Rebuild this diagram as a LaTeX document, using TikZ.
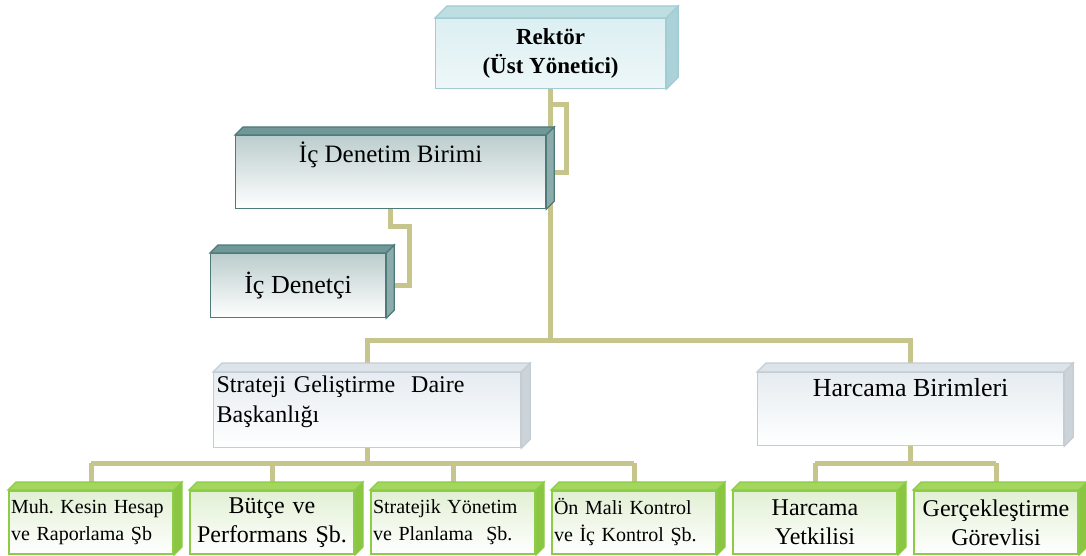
\documentclass[tikz,border=0pt]{standalone}
\usepackage{fontspec}
\setmainfont{Liberation Serif}
\usetikzlibrary{backgrounds}

\definecolor{linkolive}{RGB}{198,198,140}
\definecolor{rekfront}{RGB}{220,239,242}
\definecolor{rekedge}{RGB}{160,204,210}
\definecolor{rektop}{RGB}{190,222,226}
\definecolor{rekside}{RGB}{170,210,216}
\definecolor{audfront}{RGB}{188,205,205}
\definecolor{audedge}{RGB}{78,122,122}
\definecolor{audtop}{RGB}{112,152,152}
\definecolor{audside}{RGB}{140,172,172}
\definecolor{deptfront}{RGB}{230,236,241}
\definecolor{deptedge}{RGB}{196,205,212}
\definecolor{depttop}{RGB}{220,227,233}
\definecolor{deptside}{RGB}{204,212,218}
\definecolor{unitfront}{RGB}{226,240,212}
\definecolor{unitedge}{RGB}{140,204,70}
\definecolor{unittop}{RGB}{162,214,92}
\definecolor{unitside}{RGB}{138,198,66}

% top and right faces of a box node: node, depth, top, side, edge
\newcommand{\boxfaces}[5]{%
  \filldraw[draw=#5,fill=#3,line width=0.6pt] (#1.north west) -- ++(#2,#2) -- ([shift={(#2,#2)}]#1.north east) -- (#1.north east) -- cycle;
  \filldraw[draw=#5,fill=#4,line width=0.6pt] (#1.north east) -- ([shift={(#2,#2)}]#1.north east) -- ([shift={(#2,#2)}]#1.south east) -- (#1.south east) -- cycle;}

\begin{document}
\begin{tikzpicture}[x=0.5pt,y=-0.5pt,
  conn/.style={draw=linkolive,line width=2.5pt},
  rekbox/.style={anchor=north west,draw=rekedge,line width=0.6pt,top color=rekfront,bottom color=rekfront!50!white,
    minimum width=115pt,minimum height=35pt,align=center,font=\bfseries\fontsize{11.5}{14.5}\selectfont},
  audbox/.style={anchor=north west,draw=audedge,line width=0.6pt,top color=audfront,bottom color=white,inner sep=2pt},
  deptbox/.style={anchor=north west,draw=deptedge,line width=0.6pt,top color=deptfront,bottom color=white,inner sep=1.5pt},
  unitbox/.style={anchor=north west,draw=unitedge,line width=1pt,top color=unitfront,bottom color=white,
    inner sep=1pt,text width=80pt,minimum height=31.5pt},
  small/.style={align=left,font=\fontsize{10}{13.5}\selectfont},
  large/.style={align=center,font=\fontsize{12}{14.5}\selectfont}]
  \useasboundingbox (0,0) rectangle (1086,556);

  \node[rekbox] (rektor) at (435,18) {Rektör\\ (Üst Yönetici)};
  \node[audbox,minimum width=155pt,text height=11.5pt,text depth=21pt,font=\fontsize{12.5}{15}\selectfont] (birim) at (235,135) {İç Denetim Birimi};
  \node[audbox,minimum width=87.5pt,minimum height=32pt,font=\fontsize{13}{15}\selectfont] (denetci) at (210,253) {İç Denetçi};
  \node[deptbox,text width=150.5pt,text height=8.5pt,text depth=26pt,align=left,font=\fontsize{12}{15}\selectfont] (strateji) at (213,372) {Strateji Geliştirme\ \ Daire\\Başkanlığı};
  \node[deptbox,minimum width=153pt,text height=10.5pt,text depth=23pt,font=\fontsize{13}{15}\selectfont] (harcama) at (757,372) {Harcama Birimleri};

  \node[unitbox,small] (muh) at (8,490) {Muh.\ Kesin Hesap\\ve Raporlama Şb};
  \node[unitbox,large] (butce) at (189,490) {Bütçe ve\\Performans Şb.};
  \node[unitbox,small] (stratejik) at (370,490) {Stratejik Yönetim\\ve Planlama\ \ Şb.};
  \node[unitbox,small] (onmali) at (551,490) {Ön Mali Kontrol\\ve İç Kontrol Şb.};
  \node[unitbox,large] (yetkili) at (732,490) {Harcama\\Yetkilisi};
  \node[unitbox,large] (gorevli) at (913,490) {Gerçekleştirme\\Görevlisi};

  \boxfaces{rektor}{6pt}{rektop}{rekside}{rekedge}
  \boxfaces{birim}{4pt}{audtop}{audside}{audedge}
  \boxfaces{denetci}{4pt}{audtop}{audside}{audedge}
  \boxfaces{strateji}{4.5pt}{depttop}{deptside}{deptedge}
  \boxfaces{harcama}{4.5pt}{depttop}{deptside}{deptedge}
  \foreach \u in {muh,butce,stratejik,onmali,yetkili,gorevli}
    \boxfaces{\u}{4pt}{unittop}{unitside}{unitedge};

  \coordinate (bus1) at (0,340);
  \coordinate (bus2) at (0,463);
  \begin{pgfonlayer}{background}
    \fill[white] (0,0) rectangle (1086,556);
    % rector down to the two departments
    \draw[conn] (rektor.south) -- (rektor.south |- bus1);
    \draw[conn] (strateji.north) -- (strateji.north |- bus1) -- (harcama.north |- bus1) -- (harcama.north);
    % audit side branch
    \draw[conn] (rektor.south |- 0,105) -- ++(16,0) |- (birim.east);
    \draw[conn] (birim.south) -- ++(0,17) -- ++(19,0) |- (denetci.east);
    % units
    \draw[conn] (strateji.south) -- (strateji.south |- bus2);
    \draw[conn] (muh.north |- bus2) -- (onmali.north |- bus2);
    \draw[conn] (harcama.south) -- (harcama.south |- bus2);
    \draw[conn] (yetkili.north |- bus2) -- (gorevli.north |- bus2);
    \foreach \u in {muh,butce,stratejik,onmali,yetkili,gorevli}
      \draw[conn] (\u.north |- bus2) -- (\u.north);
  \end{pgfonlayer}
\end{tikzpicture}
\end{document}
